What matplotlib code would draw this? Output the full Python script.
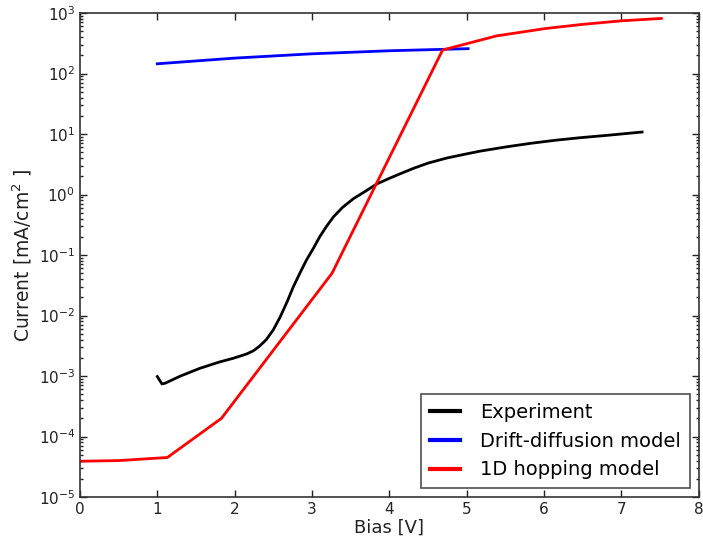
import matplotlib
matplotlib.use("Agg")
import matplotlib.pyplot as plt
import numpy as np
from matplotlib.ticker import FixedLocator, LogFormatterMathtext, NullFormatter

# Experiment (black)
exp_bias = [1.00, 1.06, 1.10, 1.30, 1.55, 1.80, 1.98, 2.15, 2.24, 2.32, 2.41, 2.50, 2.59,
            2.68, 2.76, 2.85, 2.93, 3.02, 3.10, 3.19, 3.28, 3.40, 3.54, 3.70, 3.84, 4.00,
            4.14, 4.31, 4.50, 4.74, 5.00, 5.17, 5.50, 5.82, 6.15, 6.47, 6.85, 7.27]
exp_current = [9.8e-4, 7.4e-4, 7.6e-4, 1.0e-3, 1.34e-3, 1.7e-3, 1.96e-3, 2.3e-3, 2.6e-3, 3.1e-3,
               4.0e-3, 5.8e-3, 9.5e-3, 1.7e-2, 3.0e-2, 5.2e-2, 8.3e-2, 1.3e-1, 2.0e-1, 3.0e-1,
               4.3e-1, 6.2e-1, 8.6e-1, 1.15, 1.5, 1.85, 2.2, 2.7, 3.3, 4.0, 4.7, 5.2,
               6.1, 7.0, 7.9, 8.7, 9.6, 10.8]

# Drift-diffusion model (blue)
dd_bias = [1.0, 2.0, 3.0, 4.0, 5.02]
dd_current = [145, 180, 212, 238, 258]

# 1D hopping model (red)
hop_bias = [0.0, 0.5, 1.13, 1.83, 3.26, 4.69, 5.39, 6.02, 6.5, 7.01, 7.52]
hop_current = [3.9e-5, 4.0e-5, 4.5e-5, 2.0e-4, 5.0e-2, 245, 420, 555, 650, 745, 815]

# Axis ticks
x_ticks = [0, 1, 2, 3, 4, 5, 6, 7, 8]
y_exponents = [-5, -4, -3, -2, -1, 0, 1, 2, 3]

fig = plt.figure(figsize=(7.03, 5.44), dpi=100)
ax = fig.add_axes([0.1138, 0.0864, 0.8798, 0.8896])

ax.plot(exp_bias, exp_current, color="black", lw=2, label="Experiment")
ax.plot(dd_bias, dd_current, color="#0000ff", lw=2, label="Drift-diffusion model")
ax.plot(hop_bias, hop_current, color="#ff0000", lw=2, label="1D hopping model")

ax.set_yscale("log")
ax.set_xlim(0, 8)
ax.set_ylim(1e-5, 1e3)
ax.set_xticks(x_ticks)
major = [10.0 ** e for e in y_exponents]
minor = [m * 10.0 ** e for e in y_exponents[:-1] for m in range(2, 10)]
ax.yaxis.set_major_locator(FixedLocator(major))
ax.yaxis.set_minor_locator(FixedLocator(minor))
ax.yaxis.set_major_formatter(LogFormatterMathtext())
ax.yaxis.set_minor_formatter(NullFormatter())
ax.xaxis.offsetText.set_visible(False)
ax.yaxis.offsetText.set_visible(False)

ax.tick_params(which="both", direction="in", top=True, right=True, labelsize=11,
               colors="#222222", labelcolor="#222222")
ax.tick_params(which="major", length=5, width=1)
ax.tick_params(which="minor", length=2.5, width=1)
for s in ax.spines.values():
    s.set_color("#333333")
    s.set_linewidth(1.2)

ax.set_xlabel("Bias [V]", fontsize=13, color="#222222", labelpad=1)
ax.set_ylabel("Current [mA/cm$^2$ ]", fontsize=13.5, color="#222222", labelpad=3)

leg = ax.legend(loc="lower right", fontsize=14, frameon=True, fancybox=False,
                borderaxespad=0.45, handlelength=1.55, handletextpad=1.05,
                labelspacing=0.5, borderpad=0.45)
leg.get_frame().set_edgecolor("#222222")
leg.get_frame().set_linewidth(1.2)
for line in leg.get_lines():
    line.set_linewidth(3)

fig.savefig("out.png", dpi=100)
